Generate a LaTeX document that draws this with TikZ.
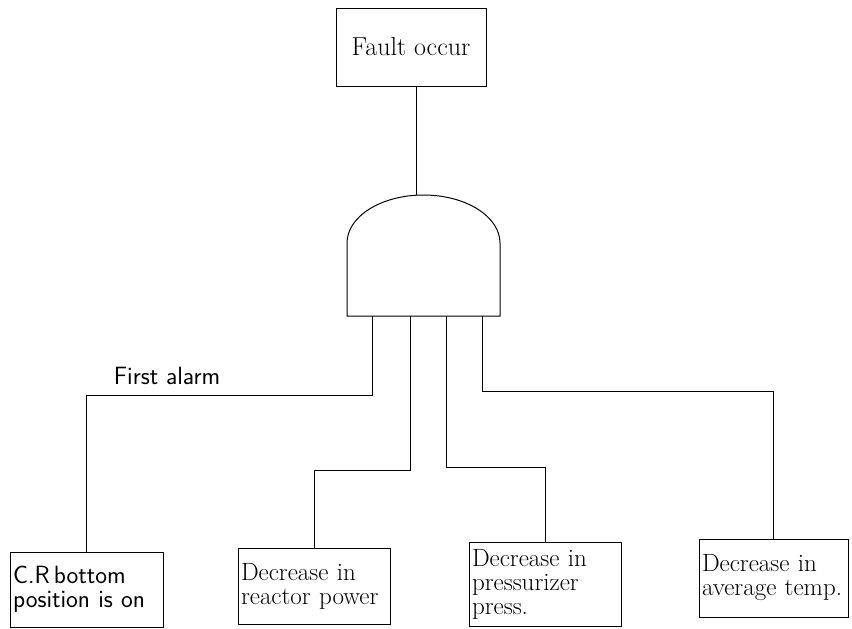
\documentclass[tikz,border=0pt]{standalone}
\usepackage{fontspec}
\usetikzlibrary{positioning}

\begin{document}
\begin{tikzpicture}[x=1pt,y=-1pt,
  event/.style={rectangle, draw, line width=1pt, align=left, inner sep=3pt,
    font=\fontsize{25}{24}\selectfont},
  wire/.style={thick}]
\useasboundingbox (0,0) rectangle (852,629);

% top event
\node [event, align=center, font=\fontsize{26}{26}\selectfont, minimum width=150pt, minimum height=78pt] (fault) at (411,47) {Fault occur};

% AND gate
\coordinate (gl) at (347,316);
\coordinate (gr) at (500,316);
\coordinate (gtop) at (416,195);
\draw [line width=1pt] (gl) -- (347,243) arc[start angle=180, end angle=0, x radius=76.5pt, y radius=48pt] -- (gr) -- cycle;
\draw [wire] (fault.south -| gtop) -- (gtop);

\coordinate (in1) at (372,316);
\coordinate (in2) at (410,316);
\coordinate (in3) at (446,316);
\coordinate (in4) at (482,316);

% basic events
\node [event, font=\sffamily\fontsize{25}{24}\selectfont, text width=147pt, minimum height=75pt] (cr) at (86.5,589.5) {C.R\,bottom\\position is on};
\node [event, text width=146pt, minimum height=76pt] (power) at (314,586) {Decrease in\\reactor power};
\node [event, text width=146pt, minimum height=84pt] (press) at (545,584) {Decrease in\\pressurizer\\press.};
\node [event, text width=143pt, minimum height=78pt] (temp) at (773.5,578) {Decrease in\\average temp.};

\coordinate (j1) at (372,395);
\coordinate (j2) at (410,470);
\coordinate (j3) at (446,467);
\coordinate (j4) at (482,391);

\draw [wire] (in1) -- (j1) -| (cr.north);
\draw [wire] (in2) -- (j2) -| (power.north);
\draw [wire] (in3) -- (j3) -| (press.north);
\draw [wire] (in4) -- (j4) -| (temp.north);

\node [font=\sffamily\fontsize{25}{26}\selectfont] (alarm) at (167,376) {First alarm};

\end{tikzpicture}
\end{document}
